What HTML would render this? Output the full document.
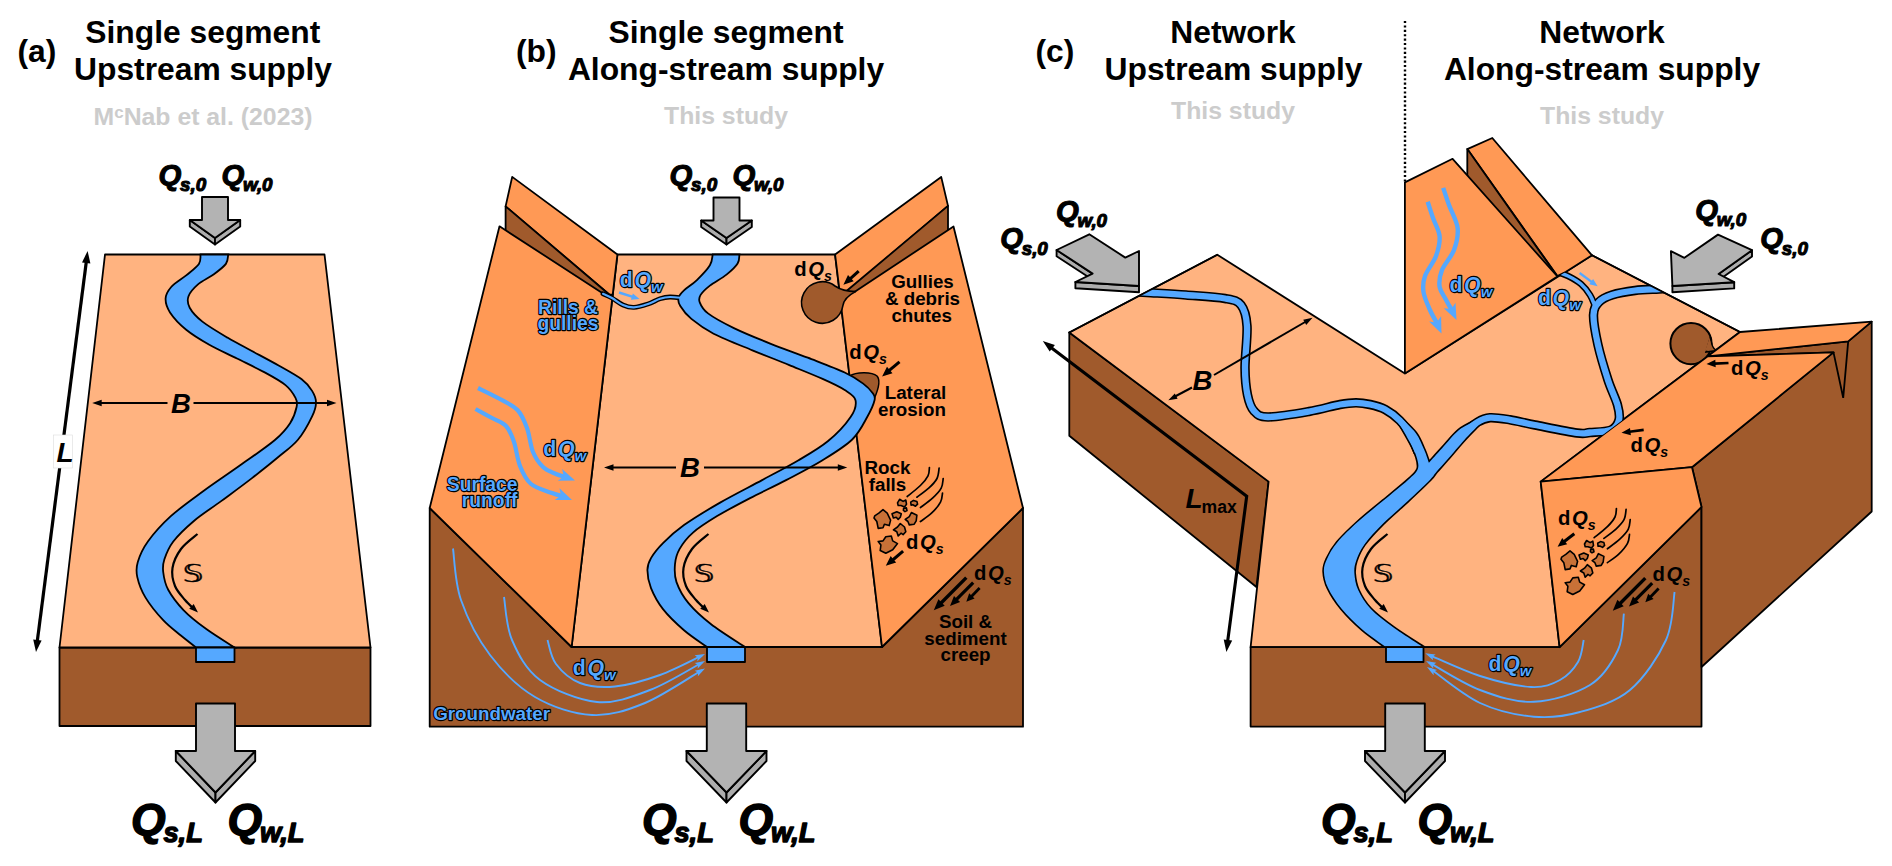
<!DOCTYPE html>
<html lang="en">
<head>
<meta charset="utf-8">
<title>Sediment and water supply configurations</title>
<style>
html,body{margin:0;padding:0;background:#fff;}
body{width:1892px;height:866px;overflow:hidden;}
svg{display:block;}
text{font-family:"Liberation Sans",sans-serif;}
.t{font-weight:bold;font-size:31.8px;text-anchor:middle;fill:#000;}
.p{font-weight:bold;font-size:31.8px;fill:#000;}
.g{font-weight:bold;font-size:24.8px;text-anchor:middle;fill:#ccc;}
.q{font-weight:bold;font-style:italic;fill:#000;stroke:#000;stroke-width:1.1px;stroke-linejoin:round;}
.qb{stroke-width:1.4px;}
.k{font-weight:bold;fill:#000;}
.w{font-weight:bold;fill:#55a8ff;stroke:#000;stroke-width:2.3px;stroke-linejoin:round;paint-order:stroke fill;}
.i{font-style:italic;}
</style>
</head>
<body>
<svg width="1892" height="866" viewBox="0 0 1892 866">
<rect width="1892" height="866" fill="#fff"/>
<!-- titles -->
<text x="17.5" y="61.5" class="p" >(a)</text>
<text x="202.8" y="42.5" class="t" >Single segment</text>
<text x="203" y="80.3" class="t" >Upstream supply</text>
<text x="203" y="124.8" class="g" >M<tspan font-size="17" dy="-7.2">c</tspan><tspan dy="7.2">Nab et al. (2023)</tspan></text>
<text x="516" y="62.4" class="p" >(b)</text>
<text x="726" y="43" class="t" >Single segment</text>
<text x="726" y="80.4" class="t" >Along-stream supply</text>
<text x="726" y="124.3" class="g" >This study</text>
<text x="1035.5" y="62.4" class="p" >(c)</text>
<text x="1233" y="43" class="t" >Network</text>
<text x="1233.5" y="80.4" class="t" >Upstream supply</text>
<text x="1233" y="119" class="g" >This study</text>
<text x="1602" y="43" class="t" >Network</text>
<text x="1602" y="80.4" class="t" >Along-stream supply</text>
<text x="1602" y="124.2" class="g" >This study</text>
<!-- panel a -->
<g id="panel-a">
<polygon points="59.5,647.5 370.5,647.5 370.5,726 59.5,726" fill="#a05a2c" stroke="#000" stroke-width="1.8" stroke-linejoin="round" />
<polygon points="105,254.5 324.5,254.5 370.5,647.5 59.5,647.5" fill="#ffb380" stroke="#000" stroke-width="1.8" stroke-linejoin="round" />
<path d="M200.5,254.5 C200.2,256.1 201.3,260.4 198.9,263.9 C196.5,267.4 190.8,271.5 186.2,275.4 C181.6,279.2 174.6,283.1 171.2,287 C167.8,290.9 165.8,294.3 165.6,298.5 C165.4,302.7 166.6,307.2 170,312.4 C173.4,317.6 179.6,324.3 186.2,329.7 C192.8,335.1 200.8,339.9 209.3,344.7 C217.8,349.5 227.8,353.9 237,358.5 C246.2,363.1 256.6,368 264.7,372.4 C272.8,376.8 280.4,380.9 285.5,385.1 C290.6,389.3 293.6,394.2 295.5,397.8 C297.4,401.4 297.5,402.8 296.6,407 C295.7,411.2 293.7,417.7 290.1,423.2 C286.5,428.7 282.9,433.2 274.9,440 C266.9,446.8 253.8,455.6 241.9,464.1 C230.1,472.6 215.7,482.1 203.8,490.8 C192,499.5 180.1,507.8 170.8,516.2 C161.5,524.7 153.4,533.9 147.9,541.5 C142.4,549.1 139.6,556 137.8,561.9 C136,567.8 136,571.2 137.3,577.1 C138.6,583 141.1,590.2 145.4,597.4 C149.7,604.6 157.3,613.9 163.2,620.2 C169.1,626.6 175.4,631 180.9,635.5 C186.4,640 193.5,645.5 196,647.5 L234.5,647.5 C229.8,644.4 214.8,635.3 206.3,629.1 C197.8,622.9 189.8,616.7 183.5,610.1 C177.2,603.5 171.6,596.1 168.2,589.8 C164.8,583.4 163.8,577.1 163.2,572 C162.6,566.9 162.7,564.4 164.4,559.3 C166.1,554.2 168.4,547.9 173.3,541.5 C178.2,535.1 185.6,528 193.6,521.2 C201.6,514.4 211.8,508.1 221.5,500.9 C231.2,493.7 242.7,485.3 252,478.1 C261.3,470.9 269.8,464.2 277.4,457.8 C285,451.4 291.9,446.9 297.7,440 C303.5,433.1 309.1,422.6 312.1,416.3 C315.2,410 316,406.6 316,402.4 C316,398.2 314.5,394.8 312.1,390.9 C309.7,387 307.3,383.5 301.7,379.3 C296.1,375.1 287.1,370.3 278.6,365.5 C270.1,360.7 259.4,355.1 250.9,350.5 C242.4,345.9 235.9,342.6 227.8,337.8 C219.7,333 208.8,326.6 202.4,321.6 C196.1,316.6 192,311.9 189.7,307.7 C187.4,303.5 187.2,300 188.5,296.2 C189.8,292.4 193.5,288.3 197.7,284.6 C201.9,280.9 209.2,277.6 213.9,274.2 C218.6,270.8 223.5,267.2 225.9,263.9 C228.3,260.6 227.8,256.1 228.2,254.5 Z" fill="#55a8ff" stroke="#000" stroke-width="1.8" />
<polygon points="196,647.5 234.5,647.5 234.5,662 196,662" fill="#55a8ff" stroke="#000" stroke-width="1.8" stroke-linejoin="round" />
<line x1="99" y1="403" x2="167.5" y2="403" stroke="#000" stroke-width="2"/>
<line x1="193.5" y1="403" x2="330" y2="403" stroke="#000" stroke-width="2"/>
<polygon points="92.2,403 101.7,399.8 101.7,403 101.7,406.2" fill="#000"/>
<polygon points="336.5,403 327,406.2 327,403 327,399.8" fill="#000"/>
<text x="171" y="412.5" class="k i" font-size="27.5">B</text>
<line x1="86.8" y1="258" x2="36.8" y2="645" stroke="#000" stroke-width="3.2"/>
<polygon points="87.6,251 90.4,263.4 86.2,262.9 82,262.4" fill="#000"/>
<polygon points="36,652 33.2,639.6 37.4,640.1 41.6,640.6" fill="#000"/>
<rect x="53.5" y="435" width="19" height="33" fill="#fff" stroke="#ddd" stroke-width="0.6"/>
<text x="56.5" y="462" class="k i" font-size="28">L</text>
<path d="M197.5,534 C194.8,536.5 185.2,543.3 181,549 C176.8,554.7 173.5,561.8 172.5,568 C171.5,574.2 172.9,580.7 175,586 C177.1,591.3 181.8,596.1 185,600 C188.2,603.9 192.9,607.8 194.5,609.3 " fill="none" stroke="#000" stroke-width="2.2" />
<polygon points="198,612.6 189.2,608.7 191.5,606.4 193.7,604" fill="#000"/>
<text transform="translate(193,581.9) scale(1.3,1)" x="0" y="0" font-size="25.6" fill="#000" stroke="#000" stroke-width="0.35" text-anchor="middle" style="font-family:'DejaVu Sans',sans-serif">𝕊</text>
<polygon points="189.8,220 189.8,226.5 215,244.5 215,238" fill="#adadad" stroke="#000" stroke-width="1.9" stroke-linejoin="round" />
<polygon points="240.2,220 240.2,226.5 215,244.5 215,238" fill="#adadad" stroke="#000" stroke-width="1.9" stroke-linejoin="round" />
<polygon points="202,197 228,197 228,220 240.2,220 215,238 189.8,220 202,220" fill="#b3b3b3" stroke="#000" stroke-width="1.9" stroke-linejoin="round" />
<polygon points="175.8,751 175.8,761 215.5,802.5 215.5,792.5" fill="#adadad" stroke="#000" stroke-width="1.9" stroke-linejoin="round" />
<polygon points="255.2,751 255.2,761 215.5,802.5 215.5,792.5" fill="#adadad" stroke="#000" stroke-width="1.9" stroke-linejoin="round" />
<polygon points="196,703.5 235,703.5 235,751 255.2,751 215.5,792.5 175.8,751 196,751" fill="#b3b3b3" stroke="#000" stroke-width="1.9" stroke-linejoin="round" />
<text x="158.5" y="184.8" class="q" font-size="29.3">Q<tspan font-size="18.8" dy="6.4" dx="-1.3">s,0</tspan></text>
<text x="221.5" y="184.8" class="q" font-size="29.3">Q<tspan font-size="18.8" dy="6.4" dx="-1.3">w,0</tspan></text>
<text x="131" y="834.5" class="q qb" font-size="44.5">Q<tspan font-size="27.3" dy="7.7" dx="-2.2">s,L</tspan></text>
<text x="227.5" y="834.5" class="q qb" font-size="44.5">Q<tspan font-size="27.3" dy="7.7" dx="-2.2">w,L</tspan></text>
</g>
<!-- panel b -->
<g id="panel-b">
<polygon points="429.7,508 571.6,647 882,647 1023,508 1023,726.7 429.7,726.7" fill="#a05a2c" stroke="#000" stroke-width="1.8" stroke-linejoin="round" />
<polygon points="617.5,254.5 835,254.5 882,647 571.6,647" fill="#ffb380" stroke="#000" stroke-width="1.8" stroke-linejoin="round" />
<polygon points="512.2,176.9 617.4,254.5 612.7,294.7 609.5,294.7 505.6,206.4" fill="#ff9955" stroke="#000" stroke-width="1.8" stroke-linejoin="round" />
<polygon points="505.6,206.4 505.6,236 603,293.5 609.5,294.7" fill="#a05a2c" stroke="none" stroke-width="1.8" stroke-linejoin="round" />
<polyline points="505.6,236 505.6,206.4 609.5,294.7" fill="none" stroke="#000" stroke-width="1.8" stroke-linejoin="round"/>
<polygon points="499.5,226.3 603,293.5 609.5,294.9 612.7,294.9 571.6,647 429.7,508" fill="#ff9955" stroke="#000" stroke-width="1.8" stroke-linejoin="round" />
<polygon points="941.2,176.9 835.1,254.5 840,294.7 843.5,294.7 948,205.9" fill="#ff9955" stroke="#000" stroke-width="1.8" stroke-linejoin="round" />
<polygon points="948,205.9 948,236 854.8,291.9 846.5,291" fill="#a05a2c" stroke="none" stroke-width="1.8" stroke-linejoin="round" />
<polyline points="948,236 948,205.9 846.5,291" fill="none" stroke="#000" stroke-width="1.8" stroke-linejoin="round"/>
<polygon points="953.5,226.5 854.8,291.7 846,293.5 839.8,294.9 882,647 1023,508" fill="#ff9955" stroke="#000" stroke-width="1.8" stroke-linejoin="round" />
<polygon points="850.5,386 859,392 859,412 854.3,424" fill="#ffb380" stroke="#ffb380" stroke-width="2.4" stroke-linejoin="round" />
<path d="M849.4,376.2 C856,371.5 872,371.5 877,376 C880.5,380 878,390 874.5,398 L852,392 Z" fill="#a05a2c" stroke="#000" stroke-width="1.5" />
<path d="M603,293.8 C604.5,294.5 608.7,296.1 612,298 C615.3,299.9 619.3,303.4 623,305 C626.7,306.6 629.8,307.6 634,307.4 C638.2,307.2 643.7,305.4 648,304 C652.3,302.6 656.3,300 660,298.8 C663.7,297.6 666.3,297.1 670,297 C673.7,296.9 680,297.8 682,298 " fill="none" stroke="#000" stroke-width="4.8" stroke-linecap="round"/>
<path d="M712.7,254.5 C712.2,256.3 712.5,261 709.9,265.3 C707.3,269.6 701.2,275.9 696.9,280.1 C692.6,284.3 687.1,287.4 684,290.3 C680.9,293.2 679.1,295.1 678.5,297.7 C677.9,300.3 678.1,302.5 680.3,306 C682.4,309.5 685.8,314.3 691.4,318.9 C697,323.5 703.4,328.5 713.6,333.7 C723.8,338.9 739.8,345.1 752.4,350.3 C765,355.5 777.6,360.3 789.3,365.1 C801,369.9 813.4,374.8 822.6,378.9 C831.8,383 839.2,386.4 844.7,390 C850.2,393.6 854.5,395.7 855.5,400.2 C856.5,404.7 855.2,410.2 850.6,417 C846,423.8 836.9,433.8 828.1,441 C819.4,448.2 809.1,454 798.1,460.5 C787.1,467 775.1,473.1 762.1,480.1 C749.1,487.1 733.1,495.1 720.1,502.6 C707.1,510.1 693.5,518.4 684,525.1 C674.5,531.9 668.5,537.6 663,543.1 C657.5,548.6 653.6,553.6 651,558.1 C648.4,562.6 647.4,565.1 647.4,570.1 C647.4,575.1 648.4,581.6 651,588.1 C653.6,594.6 657.5,602.1 663,609.1 C668.5,616.1 676.7,623.9 684,630.2 C691.3,636.5 703.2,644.2 707,647 L745,647 C739.4,643.2 720.5,631.5 711.1,624.2 C701.7,616.9 694.3,610.1 688.5,603.1 C682.7,596.1 678.8,588.6 676.5,582.1 C674.2,575.6 674.5,569.6 675,564.1 C675.5,558.6 676.5,554.4 679.5,549.1 C682.5,543.9 686.7,538.1 693,532.6 C699.3,527.1 707.6,521.9 717.1,516.1 C726.6,510.4 738.6,504.1 750.1,498.1 C761.6,492.1 774.1,486.4 786.1,480.1 C798.1,473.8 811.1,467.3 822.1,460.5 C833.1,453.7 844.7,446.8 852.2,439.5 C859.7,432.2 863.5,423.6 867.2,417 C870.9,410.4 873.7,404 874.6,400 C875.5,396 874.3,395.5 872.4,392.8 C870.5,390.1 867.8,387 863.2,383.6 C858.6,380.2 853.9,376.8 844.7,372.5 C835.5,368.2 820.1,362.5 807.8,357.7 C795.5,352.9 783.1,348.7 770.8,343.8 C758.5,338.9 744.4,333.2 733.9,328.1 C723.4,323 713.7,317.7 708,313.4 C702.3,309.1 700.9,305.4 699.7,302.3 C698.5,299.2 698.9,297.7 700.6,294.9 C702.3,292.1 705.6,289 709.9,285.6 C714.2,282.2 721.9,278.3 726.5,274.6 C731.1,270.9 735.5,266.9 737.6,263.5 C739.8,260.1 739.1,256 739.4,254.5 Z" fill="#55a8ff" stroke="#000" stroke-width="1.8" />
<path d="M603,293.8 C604.5,294.5 608.7,296.1 612,298 C615.3,299.9 619.3,303.4 623,305 C626.7,306.6 629.8,307.6 634,307.4 C638.2,307.2 643.7,305.4 648,304 C652.3,302.6 656.3,300 660,298.8 C663.7,297.6 666.3,297.1 670,297 C673.7,296.9 680,297.8 682,298 " fill="none" stroke="#55a8ff" stroke-width="2.1" stroke-linecap="round"/>
<polygon points="707,647 745,647 745,662 707,662" fill="#55a8ff" stroke="#000" stroke-width="1.8" stroke-linejoin="round" />
<path d="M855.5,291.6 Q843,291.5 835,286 A20.8,20.8 0 1 0 842.9,305.7 Q844,297.5 855.5,291.6 Z" fill="#a05a2c" stroke="#000" stroke-width="1.6" stroke-linejoin="round"/>
<line x1="610" y1="467.5" x2="676" y2="467.5" stroke="#000" stroke-width="2"/>
<line x1="704" y1="467.5" x2="841" y2="467.5" stroke="#000" stroke-width="2"/>
<polygon points="604,467.5 613.5,464.2 613.5,467.5 613.5,470.8" fill="#000"/>
<polygon points="847.3,467.5 837.8,470.8 837.8,467.5 837.8,464.2" fill="#000"/>
<text x="680" y="477" class="k i" font-size="27.5">B</text>
<path d="M708.5,534 C705.8,536.5 696.2,543.3 692,549 C687.8,554.7 684.5,561.8 683.5,568 C682.5,574.2 683.9,580.7 686,586 C688.1,591.3 692.8,596.1 696,600 C699.2,603.9 703.9,607.8 705.5,609.3 " fill="none" stroke="#000" stroke-width="2.2" />
<polygon points="709,612.6 700.2,608.7 702.5,606.4 704.7,604" fill="#000"/>
<text transform="translate(704,581.9) scale(1.3,1)" x="0" y="0" font-size="25.6" fill="#000" stroke="#000" stroke-width="0.35" text-anchor="middle" style="font-family:'DejaVu Sans',sans-serif">𝕊</text>
<path d="M478,388 C481.7,389.8 493.4,395.3 500,399 C506.6,402.7 513,405.2 517.5,410 C522,414.8 524.4,421 527,428 C529.6,435 530.3,445.5 533,452 C535.7,458.5 539.2,463.3 543,467 C546.8,470.7 552.4,472.4 556,474 C559.6,475.6 563.4,476.3 564.9,476.8 " fill="none" stroke="#55a8ff" stroke-width="4.2" />
<polygon points="575,480.5 557.8,480.8 563.7,476.4 562.1,469.1" fill="#55a8ff"/>
<path d="M475.5,409 C478.2,410.5 486.9,415.2 492,418 C497.1,420.8 502.3,422 506,426 C509.7,430 511.7,435.3 514,442 C516.3,448.7 517.2,459 520,466 C522.8,473 525.7,479.5 531,484 C536.3,488.5 546.8,491 552,493 C557.2,495 560.3,495.5 562,496 " fill="none" stroke="#55a8ff" stroke-width="4.2" />
<polygon points="572,500 554.8,499.9 560.9,495.5 559.5,488.3" fill="#55a8ff"/>
<line x1="619" y1="292.5" x2="632.8" y2="296.9" stroke="#55a8ff" stroke-width="2.4"/>
<polygon points="639.5,299 630.9,299.7 631.9,296.6 632.9,293.5" fill="#55a8ff"/>
<path d="M453,548.5 C454.3,557.1 454.8,582.2 461,600 C467.2,617.8 477.7,638.8 490,655 C502.3,671.2 518,687 535,697 C552,707 573.7,714 592,715 C610.3,716 626.7,710.5 645,703 C663.3,695.5 692.5,675.5 702,670 " fill="none" stroke="#55a8ff" stroke-width="1.9" />
<polygon points="705,668.6 697.9,676.3 698,672.5 694.7,670.7" fill="#55a8ff"/>
<path d="M504,597 C505.3,604.2 506,626.2 512,640 C518,653.8 525.8,669.7 540,680 C554.2,690.3 578.7,700.3 597,702 C615.3,703.7 632.5,696.6 650,690 C667.5,683.4 693.3,667.1 702,662.5 " fill="none" stroke="#55a8ff" stroke-width="1.9" />
<polygon points="705,661.1 697.7,668.6 697.9,664.8 694.6,662.9" fill="#55a8ff"/>
<path d="M547.5,640 C548.9,644 550.6,656.8 556,664 C561.4,671.2 570.2,679.2 580,683 C589.8,686.8 601.7,687.8 615,686.5 C628.3,685.2 645.5,680.2 660,675 C674.5,669.8 695,658.8 702,655.5 " fill="none" stroke="#55a8ff" stroke-width="1.9" />
<polygon points="705,654.1 697.3,661.2 697.7,657.4 694.6,655.3" fill="#55a8ff"/>
<path d="M929.4,467.5 C929.2,468.9 929.5,472.8 928,475.8 C926.5,478.8 923.9,482.1 920.4,485.5 C916.9,488.9 909.4,494.7 907.2,496.5 " fill="none" stroke="#000" stroke-width="1.7" stroke-linecap="round"/>
<path d="M939.1,468.2 C938.8,469.9 938.7,475.2 937,478.5 C935.3,481.8 932.1,485.1 928.7,488.2 C925.4,491.3 918.9,495.7 916.9,497.2 " fill="none" stroke="#000" stroke-width="1.7" stroke-linecap="round"/>
<path d="M943.2,478.5 C942.9,480.1 942.9,485 941.2,488.2 C939.5,491.4 936.3,494.7 932.8,497.9 C929.3,501.1 922.5,506 920.4,507.6 " fill="none" stroke="#000" stroke-width="1.7" stroke-linecap="round"/>
<path d="M942.5,493.1 C942.2,494.6 942.3,498.8 940.5,502.1 C938.7,505.5 934.9,510 931.5,513.2 C928.1,516.4 922.2,520.1 920.4,521.5 " fill="none" stroke="#000" stroke-width="1.7" stroke-linecap="round"/>
<polygon points="874.7,515.9 878.8,513.2 883,509.7 887.2,513.2 890.6,520.1 889.2,525.6 884.4,524.2 883,527.7 878.2,528.4 876.8,521.5 874,518" fill="#c87137" stroke="#000" stroke-width="1.6" stroke-linejoin="round" />
<polygon points="897.5,502.8 899.6,499.3 903.1,501.4 905.8,500 906.5,504.2 904.5,506.9 901,505.5 898.2,505.5" fill="#c87137" stroke="#000" stroke-width="1.6" stroke-linejoin="round" />
<polygon points="910.7,502.1 913.5,500.4 916.9,501.4 917.6,504.2 915.5,506.2 912.8,504.8 911.1,505.1" fill="#c87137" stroke="#000" stroke-width="1.6" stroke-linejoin="round" />
<polygon points="903.6,508.2 906.4,507.9 907,510.6 905,511.6 903.4,510.4" fill="#c87137" stroke="#000" stroke-width="1.6" stroke-linejoin="round" />
<polygon points="892,513.8 896.8,511.8 901.3,513.8 900.3,517.3 898.2,519.4 896.2,517.3 893.4,518" fill="#c87137" stroke="#000" stroke-width="1.6" stroke-linejoin="round" />
<polygon points="905.2,519.4 909.3,516.6 911.4,512.5 916.9,515.2 916.2,520.8 914.2,524.2 909.3,524.9 907.9,521.5" fill="#c87137" stroke="#000" stroke-width="1.6" stroke-linejoin="round" />
<polygon points="893.4,529.8 897.5,527 900.3,523.5 904.5,527 905.8,531.8 903.1,534.6 901,533.2 898.2,536 896.8,531.8" fill="#c87137" stroke="#000" stroke-width="1.6" stroke-linejoin="round" />
<polygon points="878.2,541.5 883,540.9 885.8,536.7 891.3,536 892.7,540.9 897.5,543.6 892.7,549.8 885.8,553.3 880.2,550.5 880.9,545" fill="#c87137" stroke="#000" stroke-width="1.6" stroke-linejoin="round" />
<line x1="903.1" y1="551.2" x2="892.7" y2="560" stroke="#000" stroke-width="3"/>
<polygon points="885.8,565.8 890.7,556.1 893.4,559.4 896.2,562.6" fill="#000"/>
<line x1="966.3" y1="577.6" x2="940.8" y2="603.2" stroke="#000" stroke-width="3.4"/>
<polygon points="933.8,610.3 938.4,599.3 941.6,602.5 944.7,605.7" fill="#000"/>
<line x1="973.2" y1="582.6" x2="956.3" y2="599.6" stroke="#000" stroke-width="3.2"/>
<polygon points="950,606 954,595.9 957,598.9 960.1,601.9" fill="#000"/>
<line x1="979.6" y1="588" x2="971.2" y2="596.7" stroke="#000" stroke-width="2.8"/>
<polygon points="966.3,601.7 969.2,593.3 971.9,596 974.6,598.6" fill="#000"/>
<line x1="858.7" y1="271.1" x2="850.1" y2="278.8" stroke="#000" stroke-width="3"/>
<polygon points="843.4,284.8 848,275 850.8,278.1 853.7,281.3" fill="#000"/>
<line x1="899.5" y1="361.8" x2="889" y2="370.7" stroke="#000" stroke-width="3"/>
<polygon points="882.1,376.5 887,366.8 889.7,370 892.5,373.3" fill="#000"/>
<polygon points="701.2,220.5 701.2,227 726.5,244.5 726.5,238" fill="#adadad" stroke="#000" stroke-width="1.9" stroke-linejoin="round" />
<polygon points="751.8,220.5 751.8,227 726.5,244.5 726.5,238" fill="#adadad" stroke="#000" stroke-width="1.9" stroke-linejoin="round" />
<polygon points="713.5,197.5 739.5,197.5 739.5,220.5 751.8,220.5 726.5,238 701.2,220.5 713.5,220.5" fill="#b3b3b3" stroke="#000" stroke-width="1.9" stroke-linejoin="round" />
<polygon points="686.5,751 686.5,761 726.5,802.5 726.5,792.5" fill="#adadad" stroke="#000" stroke-width="1.9" stroke-linejoin="round" />
<polygon points="766.5,751 766.5,761 726.5,802.5 726.5,792.5" fill="#adadad" stroke="#000" stroke-width="1.9" stroke-linejoin="round" />
<polygon points="706.8,703.5 746.2,703.5 746.2,751 766.5,751 726.5,792.5 686.5,751 706.8,751" fill="#b3b3b3" stroke="#000" stroke-width="1.9" stroke-linejoin="round" />
<text x="669.5" y="184.8" class="q" font-size="29.3">Q<tspan font-size="18.8" dy="6.4" dx="-1.3">s,0</tspan></text>
<text x="732.5" y="184.8" class="q" font-size="29.3">Q<tspan font-size="18.8" dy="6.4" dx="-1.3">w,0</tspan></text>
<text x="642" y="834.5" class="q qb" font-size="44.5">Q<tspan font-size="27.3" dy="7.7" dx="-2.2">s,L</tspan></text>
<text x="738.5" y="834.5" class="q qb" font-size="44.5">Q<tspan font-size="27.3" dy="7.7" dx="-2.2">w,L</tspan></text>
</g>
<!-- panel c -->
<g id="panel-c">
<line x1="1405" y1="21" x2="1405" y2="182" stroke="#000" stroke-width="2.4" stroke-dasharray="2.1 2.3"/>
<polygon points="1069.3,332.5 1268.6,481.6 1256.4,587 1069.3,435.8" fill="#a05a2c" stroke="#000" stroke-width="1.8" stroke-linejoin="round" />
<polygon points="1250.6,647.2 1559.6,647.2 1701.5,507 1701.5,726.6 1250.6,726.6" fill="#a05a2c" stroke="#000" stroke-width="1.8" stroke-linejoin="round" />
<polygon points="1871.7,321.6 1871.7,511.5 1701.5,667 1701.5,507 1692,467.2 1833.5,352.4 1707.7,356.3 1848.2,341.4" fill="#a05a2c" stroke="#000" stroke-width="1.8" stroke-linejoin="round" />
<polygon points="1069.3,332.5 1217.3,254.8 1404.9,373.4 1557.4,277 1566,271.7 1592,255.3 1740,332 1707.7,356.3 1540.7,481.6 1559.6,647.2 1250.6,647.2 1268.6,481.6" fill="#ffb380" stroke="#000" stroke-width="1.8" stroke-linejoin="round" />
<circle cx="1691" cy="343.6" r="20.6" fill="#a05a2c" stroke="#000" stroke-width="2"/>
<path d="M1710.6,337 Q1711.3,348 1716.5,350.6 L1706,352 Z" fill="#a05a2c" stroke="#000" stroke-width="1.6" />
<path d="M1709.6,337.5 L1712,349.5 L1705,351 Z" fill="#a05a2c" stroke="none" stroke-width="1.8" />
<polygon points="1467.3,149.1 1492.3,138 1592,255.3 1566,271.7 1557.4,276" fill="#ff9955" stroke="#000" stroke-width="1.8" stroke-linejoin="round" />
<polygon points="1467.3,149.1 1467.3,184 1557.4,276.5" fill="#a05a2c" stroke="none" stroke-width="1.8" stroke-linejoin="round" />
<polyline points="1467.3,184 1467.3,149.1 1557.4,276.5" fill="none" stroke="#000" stroke-width="1.8" stroke-linejoin="round"/>
<polygon points="1404.9,182.4 1452.6,158.8 1557.4,276.5 1404.9,373.4" fill="#ff9955" stroke="#000" stroke-width="1.8" stroke-linejoin="round" />
<polygon points="1740,332 1871.7,321.6 1848.2,341.4 1707.7,356.3" fill="#ff9955" stroke="#000" stroke-width="1.8" stroke-linejoin="round" />
<polyline points="1833.5,352.4 1843.2,397.8 1848.2,341.4" fill="none" stroke="#000" stroke-width="1.8" stroke-linejoin="miter"/>
<polygon points="1707.7,356.3 1833.5,352.4 1692,467.2 1540.7,481.6" fill="#ff9955" stroke="#000" stroke-width="1.8" stroke-linejoin="round" />
<polygon points="1540.7,481.6 1692,467.2 1701.5,507 1559.6,647.2" fill="#ff9955" stroke="#000" stroke-width="1.8" stroke-linejoin="round" />
<clipPath id="valleyc"><polygon points="1069.3,332.5 1217.3,254.8 1404.9,373.4 1557.4,277 1566,271.7 1592,255.3 1740,332 1707.7,356.3 1540.7,481.6 1559.6,647.2 1250.6,647.2 1268.6,481.6"/></clipPath>
<g clip-path="url(#valleyc)">
<path d="M1555,271.5 C1557.2,272.2 1563.7,273.9 1568,276 C1572.3,278.1 1577.3,280.8 1581,284 C1584.7,287.2 1587.8,291.5 1590,295 C1592.2,298.5 1593.8,303.3 1594.5,305 " fill="none" stroke="#000" stroke-width="6.6" />
<path d="M1130,291.5 C1132.8,291.7 1137.7,291.9 1147,292.5 C1156.3,293.1 1173,294 1186,295 C1199,296 1215.8,296.8 1225,298.5 C1234.2,300.2 1237.3,300.4 1241,305 C1244.7,309.6 1246.3,315.5 1247,326 C1247.7,336.5 1244.9,356.5 1245,368 C1245.1,379.5 1246,387.8 1247.5,395 C1249,402.2 1250.6,407.3 1254,411 C1257.4,414.7 1258.8,416.9 1268,417 C1277.2,417.1 1297,413.6 1309,411.5 C1321,409.4 1332.2,405.9 1340,404.5 C1347.8,403.1 1351,402.8 1356,402.8 C1361,402.8 1365.1,403.4 1370,404.5 C1374.9,405.6 1380.2,406.8 1385.2,409.5 C1390.2,412.2 1395.5,416.1 1399.8,420.5 C1404.1,424.9 1408,430.8 1411,436 C1414,441.2 1416.8,449.3 1418,452 " fill="none" stroke="#000" stroke-width="9.5" />
<path d="M1675,288 C1672.3,288.2 1665.7,288.6 1659,289 C1652.3,289.4 1642.8,289.5 1635,290.5 C1627.2,291.5 1618,293.1 1612,295 C1606,296.9 1602.1,298.7 1599,302 C1595.9,305.3 1593.7,307.8 1593.5,315 C1593.3,322.2 1595.6,334.2 1598,345 C1600.4,355.8 1604.8,370 1608,380 C1611.2,390 1615.7,398.3 1617.5,405 C1619.3,411.7 1620.1,415.8 1619,420 C1617.9,424.2 1615.8,427.9 1611,430 C1606.2,432.1 1595.7,432 1590,432.5 C1584.3,433 1586.2,434.2 1577,433 C1567.8,431.8 1546.2,427.2 1535,425 C1523.8,422.8 1517.5,421 1510,419.8 C1502.5,418.6 1495.4,417.3 1490,417.7 C1484.6,418.1 1482.2,419.3 1477.4,422.2 C1472.7,425.1 1466.6,430.2 1461.5,435 C1456.4,439.8 1450.6,447 1447,451 C1443.4,455 1441.2,457.7 1440,459 " fill="none" stroke="#000" stroke-width="9.5" />
<path d="M1399.3,423.4 C1401.1,426.6 1407.3,437.2 1410.2,442.7 C1413.1,448.2 1415.1,452.1 1416.4,456.5 C1417.7,460.9 1419.2,465.1 1417.8,469 C1416.4,472.9 1413.8,474.7 1408,480 C1402.2,485.3 1391.4,493.9 1383.1,500.8 C1374.8,507.7 1365.8,514.7 1358.2,521.6 C1350.6,528.5 1342.6,536.1 1337.4,542.3 C1332.2,548.5 1329.2,554.1 1327,559 C1324.8,563.9 1323.7,566.5 1323.9,571.4 C1324.1,576.2 1325.1,581.9 1328.1,588.1 C1331,594.3 1335.9,601.9 1341.6,608.8 C1347.3,615.7 1354.9,623.2 1362.3,629.6 C1369.7,636 1382,644.3 1386,647.2 L1423.5,647.2 C1418.5,643.9 1402.3,633.9 1393.5,627.5 C1384.7,621.1 1376.5,615 1370.6,608.8 C1364.7,602.6 1360.9,596 1358.2,590.1 C1355.5,584.2 1354.8,578.4 1354.4,573.5 C1354.1,568.6 1354.4,565.9 1356.1,561 C1357.8,556.1 1359.9,550.6 1364.4,544.4 C1368.9,538.2 1375.8,530.9 1383.1,523.6 C1390.4,516.3 1400.3,508.1 1408.1,500.8 C1415.9,493.5 1425.2,484.8 1429.9,480 C1434.6,475.2 1433.5,475.2 1436.5,471.8 C1439.5,468.4 1443,464.6 1447.6,459.3 C1452.2,454 1459.2,445.5 1464.3,439.9 C1469.4,434.2 1475.9,427.8 1478.2,425.4 L1476.6,420.2 C1473.6,421.9 1464.5,425.5 1458.7,430.2 C1453,434.9 1447.1,442.8 1442.1,448.2 C1437.1,453.6 1431.1,460.4 1428.9,462.8 C1428.1,460.6 1426.3,454.6 1424.1,449.6 C1421.9,444.6 1419.6,438.3 1415.7,433 C1411.8,427.7 1403.1,420.2 1400.6,417.6 Z" fill="#55a8ff" stroke="#000" stroke-width="3.2" stroke-linejoin="round"/>
<path d="M1555,271.5 C1557.2,272.2 1563.7,273.9 1568,276 C1572.3,278.1 1577.3,280.8 1581,284 C1584.7,287.2 1587.8,291.5 1590,295 C1592.2,298.5 1593.8,303.3 1594.5,305 " fill="none" stroke="#55a8ff" stroke-width="3.6" />
<path d="M1130,291.5 C1132.8,291.7 1137.7,291.9 1147,292.5 C1156.3,293.1 1173,294 1186,295 C1199,296 1215.8,296.8 1225,298.5 C1234.2,300.2 1237.3,300.4 1241,305 C1244.7,309.6 1246.3,315.5 1247,326 C1247.7,336.5 1244.9,356.5 1245,368 C1245.1,379.5 1246,387.8 1247.5,395 C1249,402.2 1250.6,407.3 1254,411 C1257.4,414.7 1258.8,416.9 1268,417 C1277.2,417.1 1297,413.6 1309,411.5 C1321,409.4 1332.2,405.9 1340,404.5 C1347.8,403.1 1351,402.8 1356,402.8 C1361,402.8 1365.1,403.4 1370,404.5 C1374.9,405.6 1380.2,406.8 1385.2,409.5 C1390.2,412.2 1395.5,416.1 1399.8,420.5 C1404.1,424.9 1408,430.8 1411,436 C1414,441.2 1416.8,449.3 1418,452 " fill="none" stroke="#55a8ff" stroke-width="6.3" />
<path d="M1675,288 C1672.3,288.2 1665.7,288.6 1659,289 C1652.3,289.4 1642.8,289.5 1635,290.5 C1627.2,291.5 1618,293.1 1612,295 C1606,296.9 1602.1,298.7 1599,302 C1595.9,305.3 1593.7,307.8 1593.5,315 C1593.3,322.2 1595.6,334.2 1598,345 C1600.4,355.8 1604.8,370 1608,380 C1611.2,390 1615.7,398.3 1617.5,405 C1619.3,411.7 1620.1,415.8 1619,420 C1617.9,424.2 1615.8,427.9 1611,430 C1606.2,432.1 1595.7,432 1590,432.5 C1584.3,433 1586.2,434.2 1577,433 C1567.8,431.8 1546.2,427.2 1535,425 C1523.8,422.8 1517.5,421 1510,419.8 C1502.5,418.6 1495.4,417.3 1490,417.7 C1484.6,418.1 1482.2,419.3 1477.4,422.2 C1472.7,425.1 1466.6,430.2 1461.5,435 C1456.4,439.8 1450.6,447 1447,451 C1443.4,455 1441.2,457.7 1440,459 " fill="none" stroke="#55a8ff" stroke-width="6.3" />
<path d="M1399.3,423.4 C1401.1,426.6 1407.3,437.2 1410.2,442.7 C1413.1,448.2 1415.1,452.1 1416.4,456.5 C1417.7,460.9 1419.2,465.1 1417.8,469 C1416.4,472.9 1413.8,474.7 1408,480 C1402.2,485.3 1391.4,493.9 1383.1,500.8 C1374.8,507.7 1365.8,514.7 1358.2,521.6 C1350.6,528.5 1342.6,536.1 1337.4,542.3 C1332.2,548.5 1329.2,554.1 1327,559 C1324.8,563.9 1323.7,566.5 1323.9,571.4 C1324.1,576.2 1325.1,581.9 1328.1,588.1 C1331,594.3 1335.9,601.9 1341.6,608.8 C1347.3,615.7 1354.9,623.2 1362.3,629.6 C1369.7,636 1382,644.3 1386,647.2 L1423.5,647.2 C1418.5,643.9 1402.3,633.9 1393.5,627.5 C1384.7,621.1 1376.5,615 1370.6,608.8 C1364.7,602.6 1360.9,596 1358.2,590.1 C1355.5,584.2 1354.8,578.4 1354.4,573.5 C1354.1,568.6 1354.4,565.9 1356.1,561 C1357.8,556.1 1359.9,550.6 1364.4,544.4 C1368.9,538.2 1375.8,530.9 1383.1,523.6 C1390.4,516.3 1400.3,508.1 1408.1,500.8 C1415.9,493.5 1425.2,484.8 1429.9,480 C1434.6,475.2 1433.5,475.2 1436.5,471.8 C1439.5,468.4 1443,464.6 1447.6,459.3 C1452.2,454 1459.2,445.5 1464.3,439.9 C1469.4,434.2 1475.9,427.8 1478.2,425.4 L1476.6,420.2 C1473.6,421.9 1464.5,425.5 1458.7,430.2 C1453,434.9 1447.1,442.8 1442.1,448.2 C1437.1,453.6 1431.1,460.4 1428.9,462.8 C1428.1,460.6 1426.3,454.6 1424.1,449.6 C1421.9,444.6 1419.6,438.3 1415.7,433 C1411.8,427.7 1403.1,420.2 1400.6,417.6 Z" fill="#55a8ff" stroke="none" stroke-width="1.8" />
</g>
<polygon points="1386,647.2 1423.5,647.2 1423.5,662 1386,662" fill="#55a8ff" stroke="#000" stroke-width="1.8" stroke-linejoin="round" />
<line x1="1217.3" y1="254.8" x2="1069.3" y2="332.5" stroke="#000" stroke-width="1.8" stroke-linecap="round"/>
<line x1="1592" y1="255.3" x2="1740" y2="332" stroke="#000" stroke-width="1.8" stroke-linecap="round"/>
<line x1="1250.6" y1="647.2" x2="1559.6" y2="647.2" stroke="#000" stroke-width="1.8"/>
<line x1="1174" y1="397" x2="1192" y2="387.5" stroke="#000" stroke-width="2"/>
<line x1="1214" y1="375" x2="1306" y2="321.5" stroke="#000" stroke-width="2"/>
<polygon points="1168.3,400.3 1174.8,393.4 1176.2,396 1177.6,398.7" fill="#000"/>
<polygon points="1312.5,317.8 1306.2,324.9 1304.7,322.3 1303.2,319.7" fill="#000"/>
<text x="1192.5" y="390" class="k i" font-size="27.5">B</text>
<polyline points="1049,346 1246.7,496.3 1227.3,644" fill="none" stroke="#000" stroke-width="3.1" stroke-linejoin="miter"/>
<polygon points="1042.8,340.9 1054.9,344.9 1052.3,348.2 1049.7,351.6" fill="#000"/>
<polygon points="1226.4,652 1223.7,639.6 1227.9,640.1 1232.2,640.6" fill="#000"/>
<text x="1185.5" y="508" class="k" font-size="28"><tspan class="i">L</tspan><tspan font-size="17.6" dy="5" dx="-1">max</tspan></text>
<path d="M1387.5,534 C1384.8,536.5 1375.2,543.3 1371,549 C1366.8,554.7 1363.5,561.8 1362.5,568 C1361.5,574.2 1362.9,580.7 1365,586 C1367.1,591.3 1371.8,596.1 1375,600 C1378.2,603.9 1382.9,607.8 1384.5,609.3 " fill="none" stroke="#000" stroke-width="2.2" />
<polygon points="1388,612.6 1379.2,608.7 1381.5,606.4 1383.7,604" fill="#000"/>
<text transform="translate(1383,581.9) scale(1.3,1)" x="0" y="0" font-size="25.6" fill="#000" stroke="#000" stroke-width="0.35" text-anchor="middle" style="font-family:'DejaVu Sans',sans-serif">𝕊</text>
<path d="M1427.7,201.8 C1428.6,204.5 1431,212.2 1433,218 C1435,223.8 1439.1,230.1 1439.6,236.4 C1440.1,242.7 1438.4,249.4 1436,256 C1433.6,262.6 1427.1,270 1425,276 C1422.9,282 1422.7,286.3 1423.5,292 C1424.3,297.7 1427.7,304.7 1430,310 C1432.3,315.3 1436,321.3 1437.2,323.6 " fill="none" stroke="#55a8ff" stroke-width="4.4" />
<polygon points="1441.5,333.5 1429.1,321.4 1436.7,322.5 1441.1,316.2" fill="#55a8ff"/>
<path d="M1443.2,187.9 C1444.2,190.8 1446.6,198.3 1449,205 C1451.4,211.7 1456.8,220.5 1457.6,228 C1458.4,235.5 1456.6,243 1454,250 C1451.4,257 1444.4,264 1442,270 C1439.6,276 1439,281.3 1439.5,286 C1440,290.7 1442.9,294 1445,298 C1447.1,302 1450.7,308.2 1451.9,310.2 " fill="none" stroke="#55a8ff" stroke-width="4.4" />
<polygon points="1456.5,320 1443.8,308.3 1451.4,309.1 1455.5,302.8" fill="#55a8ff"/>
<line x1="1579.6" y1="273" x2="1592" y2="282.1" stroke="#55a8ff" stroke-width="2.4"/>
<polygon points="1597.6,286.3 1589.2,284.2 1591.2,281.5 1593.1,278.9" fill="#55a8ff"/>
<path d="M1674.6,592 C1673.2,600 1673.4,623.7 1666,640 C1658.6,656.3 1644.3,678 1630,690 C1615.7,702 1596,707.5 1580,712 C1564,716.5 1550.5,718.2 1533.8,716.7 C1517.1,715.2 1497.3,711 1480,703 C1462.7,695 1438.3,674.2 1430,668.5 " fill="none" stroke="#55a8ff" stroke-width="1.9" />
<polygon points="1427,667.1 1437.1,669.9 1433.7,671.5 1433.6,675.3" fill="#55a8ff"/>
<path d="M1623.9,613.6 C1622.9,619.7 1623.7,638.1 1618,650 C1612.3,661.9 1604,676.4 1590,685 C1576,693.6 1552.1,701 1533.8,701.8 C1515.5,702.6 1497.5,696.6 1480,690 C1462.5,683.4 1437.5,667 1429,662.4 " fill="none" stroke="#55a8ff" stroke-width="1.9" />
<polygon points="1426,661 1436.4,662.8 1433.1,664.8 1433.3,668.6" fill="#55a8ff"/>
<path d="M1583.7,640 C1582.8,643.7 1582,655.3 1578,662 C1574,668.7 1567.8,675.8 1560,680 C1552.2,684.2 1544.3,687.7 1531,687 C1517.7,686.3 1497.1,681.4 1480,676 C1462.9,670.6 1436.9,658.2 1428.3,654.6 " fill="none" stroke="#55a8ff" stroke-width="1.9" />
<polygon points="1425.3,653.2 1435.7,654.4 1432.6,656.6 1433,660.3" fill="#55a8ff"/>
<path d="M1616.4,508.7 C1616.2,510.1 1616.5,514 1615,517 C1613.5,520 1610.9,523.2 1607.4,526.7 C1603.9,530.2 1596.4,535.9 1594.2,537.7 " fill="none" stroke="#000" stroke-width="1.7" stroke-linecap="round"/>
<path d="M1626.1,509.4 C1625.8,511.1 1625.7,516.4 1624,519.7 C1622.3,523 1619,526.3 1615.7,529.4 C1612.4,532.5 1605.9,536.9 1603.9,538.4 " fill="none" stroke="#000" stroke-width="1.7" stroke-linecap="round"/>
<path d="M1630.2,519.7 C1629.9,521.3 1629.9,526.2 1628.2,529.4 C1626.5,532.6 1623.3,535.9 1619.8,539.1 C1616.3,542.3 1609.5,547.2 1607.4,548.8 " fill="none" stroke="#000" stroke-width="1.7" stroke-linecap="round"/>
<path d="M1629.5,534.3 C1629.2,535.8 1629.3,540 1627.5,543.3 C1625.7,546.7 1621.8,551.2 1618.5,554.4 C1615.2,557.6 1609.2,561.3 1607.4,562.7 " fill="none" stroke="#000" stroke-width="1.7" stroke-linecap="round"/>
<polygon points="1561.7,557.1 1565.8,554.4 1570,550.9 1574.2,554.4 1577.6,561.3 1576.2,566.8 1571.4,565.4 1570,568.9 1565.2,569.6 1563.8,562.7 1561,559.2" fill="#c87137" stroke="#000" stroke-width="1.6" stroke-linejoin="round" />
<polygon points="1584.5,544 1586.6,540.5 1590.1,542.6 1592.8,541.2 1593.5,545.4 1591.5,548.1 1588,546.7 1585.2,546.7" fill="#c87137" stroke="#000" stroke-width="1.6" stroke-linejoin="round" />
<polygon points="1597.7,543.3 1600.5,541.6 1603.9,542.6 1604.6,545.4 1602.5,547.4 1599.8,546 1598.1,546.3" fill="#c87137" stroke="#000" stroke-width="1.6" stroke-linejoin="round" />
<polygon points="1590.6,549.4 1593.4,549.1 1594,551.8 1592,552.8 1590.4,551.6" fill="#c87137" stroke="#000" stroke-width="1.6" stroke-linejoin="round" />
<polygon points="1579,555 1583.8,553 1588.3,555 1587.3,558.5 1585.2,560.6 1583.2,558.5 1580.4,559.2" fill="#c87137" stroke="#000" stroke-width="1.6" stroke-linejoin="round" />
<polygon points="1592.2,560.6 1596.3,557.8 1598.4,553.7 1603.9,556.4 1603.2,562 1601.2,565.4 1596.3,566.1 1594.9,562.7" fill="#c87137" stroke="#000" stroke-width="1.6" stroke-linejoin="round" />
<polygon points="1580.4,571 1584.5,568.2 1587.3,564.7 1591.5,568.2 1592.8,573 1590.1,575.8 1588,574.4 1585.2,577.2 1583.8,573" fill="#c87137" stroke="#000" stroke-width="1.6" stroke-linejoin="round" />
<polygon points="1565.2,582.7 1570,582.1 1572.8,577.9 1578.3,577.2 1579.7,582.1 1584.5,584.8 1579.7,591 1572.8,594.5 1567.2,591.7 1567.9,586.2" fill="#c87137" stroke="#000" stroke-width="1.6" stroke-linejoin="round" />
<line x1="1574.3" y1="533.7" x2="1563.9" y2="541.8" stroke="#000" stroke-width="3"/>
<polygon points="1557.6,546.7 1562.2,538 1564.7,541.2 1567.2,544.3" fill="#000"/>
<line x1="1645.3" y1="578.1" x2="1619.8" y2="603.7" stroke="#000" stroke-width="3.4"/>
<polygon points="1612.8,610.8 1617.4,599.8 1620.6,603 1623.7,606.2" fill="#000"/>
<line x1="1652.2" y1="583.1" x2="1635.3" y2="600.1" stroke="#000" stroke-width="3.2"/>
<polygon points="1629,606.5 1633,596.4 1636,599.4 1639.1,602.4" fill="#000"/>
<line x1="1658.6" y1="588.5" x2="1650.2" y2="597.2" stroke="#000" stroke-width="2.8"/>
<polygon points="1645.3,602.2 1648.2,593.8 1650.9,596.5 1653.6,599.1" fill="#000"/>
<line x1="1728.5" y1="363" x2="1714.5" y2="363.6" stroke="#000" stroke-width="2.6"/>
<polygon points="1706.5,364 1715.3,359.8 1715.5,363.6 1715.7,367.3" fill="#000"/>
<line x1="1643.7" y1="429.9" x2="1629.4" y2="431.7" stroke="#000" stroke-width="2.6"/>
<polygon points="1621.5,432.7 1630,427.9 1630.4,431.6 1630.9,435.3" fill="#000"/>
<polygon points="1056.6,250 1056.6,256.2 1092.6,279.8 1092.6,273.6" fill="#adadad" stroke="#000" stroke-width="1.9" stroke-linejoin="round" />
<polygon points="1075.4,282 1075.4,288.2 1139,292.2 1139,286" fill="#adadad" stroke="#000" stroke-width="1.9" stroke-linejoin="round" />
<polygon points="1089.3,234.3 1056.6,250 1092.6,273.6 1075.4,282 1139,286 1139,251 1125.3,257.6" fill="#b3b3b3" stroke="#000" stroke-width="1.9" stroke-linejoin="round" />
<polygon points="1752,250.2 1752,256.4 1718.6,280.2 1718.6,274" fill="#adadad" stroke="#000" stroke-width="1.9" stroke-linejoin="round" />
<polygon points="1734.2,282.2 1734.2,288.4 1672.4,292.2 1672.4,286" fill="#adadad" stroke="#000" stroke-width="1.9" stroke-linejoin="round" />
<polygon points="1718,234.6 1752,250.2 1718.6,274 1734.2,282.2 1672.4,286 1670.9,251.2 1684.4,257.8" fill="#b3b3b3" stroke="#000" stroke-width="1.9" stroke-linejoin="round" />
<polygon points="1365,751 1365,761 1405,802.5 1405,792.5" fill="#adadad" stroke="#000" stroke-width="1.9" stroke-linejoin="round" />
<polygon points="1445,751 1445,761 1405,802.5 1405,792.5" fill="#adadad" stroke="#000" stroke-width="1.9" stroke-linejoin="round" />
<polygon points="1385.2,703.5 1424.8,703.5 1424.8,751 1445,751 1405,792.5 1365,751 1385.2,751" fill="#b3b3b3" stroke="#000" stroke-width="1.9" stroke-linejoin="round" />
<text x="1056" y="220.5" class="q" font-size="29.3">Q<tspan font-size="18.8" dy="6.4" dx="-1.3">w,0</tspan></text>
<text x="1000.2" y="248.3" class="q" font-size="29.3">Q<tspan font-size="18.8" dy="6.4" dx="-1.3">s,0</tspan></text>
<text x="1695.2" y="220" class="q" font-size="29.3">Q<tspan font-size="18.8" dy="6.4" dx="-1.3">w,0</tspan></text>
<text x="1760.3" y="248.3" class="q" font-size="29.3">Q<tspan font-size="18.8" dy="6.4" dx="-1.3">s,0</tspan></text>
<text x="1321" y="834.5" class="q qb" font-size="44.5">Q<tspan font-size="27.3" dy="7.7" dx="-2.2">s,L</tspan></text>
<text x="1417.5" y="834.5" class="q qb" font-size="44.5">Q<tspan font-size="27.3" dy="7.7" dx="-2.2">w,L</tspan></text>
</g>
<!-- labels -->
<g id="labels">
<text x="794.3" y="276" class="k" font-size="20.3">d<tspan class="i" dx="1.6">Q</tspan><tspan class="i" font-size="14.2" dy="5.1">s</tspan></text>
<text x="849.3" y="358.6" class="k" font-size="20.3">d<tspan class="i" dx="1.6">Q</tspan><tspan class="i" font-size="14.2" dy="5.1">s</tspan></text>
<text x="906.1" y="549" class="k" font-size="20.3">d<tspan class="i" dx="1.6">Q</tspan><tspan class="i" font-size="14.2" dy="5.1">s</tspan></text>
<text x="974" y="580" class="k" font-size="20.3">d<tspan class="i" dx="1.6">Q</tspan><tspan class="i" font-size="14.2" dy="5.1">s</tspan></text>
<text x="922.5" y="288.2" class="k" font-size="18.8" text-anchor="middle">Gullies</text>
<text x="922.5" y="305.3" class="k" font-size="18.8" text-anchor="middle">&amp; debris</text>
<text x="921.7" y="321.8" class="k" font-size="18.8" text-anchor="middle">chutes</text>
<text x="915.5" y="399.4" class="k" font-size="18.8" text-anchor="middle">Lateral</text>
<text x="912" y="416" class="k" font-size="18.8" text-anchor="middle">erosion</text>
<text x="887.5" y="474.4" class="k" font-size="18.8" text-anchor="middle">Rock</text>
<text x="887.5" y="490.5" class="k" font-size="18.8" text-anchor="middle">falls</text>
<text x="965.5" y="628" class="k" font-size="18.8" text-anchor="middle">Soil &amp;</text>
<text x="965.5" y="644.7" class="k" font-size="18.8" text-anchor="middle">sediment</text>
<text x="965.5" y="660.8" class="k" font-size="18.8" text-anchor="middle">creep</text>
<text x="619.8" y="286.6" class="w" font-size="21.3">d<tspan class="i" dx="1.6">Q</tspan><tspan class="i" font-size="14.9" dy="5.3">w</tspan></text>
<text x="543.3" y="455.6" class="w" font-size="21.3">d<tspan class="i" dx="1.6">Q</tspan><tspan class="i" font-size="14.9" dy="5.3">w</tspan></text>
<text x="572.8" y="674.6" class="w" font-size="21.3">d<tspan class="i" dx="1.6">Q</tspan><tspan class="i" font-size="14.9" dy="5.3">w</tspan></text>
<text x="568" y="314" class="w" font-size="19.3" text-anchor="middle">Rills &amp;</text>
<text x="568" y="330" class="w" font-size="19.3" text-anchor="middle">gullies</text>
<text x="517.5" y="491" class="w" font-size="19.3" text-anchor="end">Surface</text>
<text x="517.5" y="507" class="w" font-size="19.3" text-anchor="end">runoff</text>
<text x="433.2" y="720" class="w" font-size="18.8" text-anchor="start">Groundwater</text>
<text x="1731" y="375" class="k" font-size="20.3">d<tspan class="i" dx="1.6">Q</tspan><tspan class="i" font-size="14.2" dy="5.1">s</tspan></text>
<text x="1630.5" y="452.3" class="k" font-size="20.3">d<tspan class="i" dx="1.6">Q</tspan><tspan class="i" font-size="14.2" dy="5.1">s</tspan></text>
<text x="1558" y="525" class="k" font-size="20.3">d<tspan class="i" dx="1.6">Q</tspan><tspan class="i" font-size="14.2" dy="5.1">s</tspan></text>
<text x="1652.5" y="580.6" class="k" font-size="20.3">d<tspan class="i" dx="1.6">Q</tspan><tspan class="i" font-size="14.2" dy="5.1">s</tspan></text>
<text x="1449.5" y="292" class="w" font-size="21.3">d<tspan class="i" dx="1.6">Q</tspan><tspan class="i" font-size="14.9" dy="5.3">w</tspan></text>
<text x="1538" y="304.6" class="w" font-size="21.3">d<tspan class="i" dx="1.6">Q</tspan><tspan class="i" font-size="14.9" dy="5.3">w</tspan></text>
<text x="1488.6" y="671" class="w" font-size="21.3">d<tspan class="i" dx="1.6">Q</tspan><tspan class="i" font-size="14.9" dy="5.3">w</tspan></text>
</g>
</svg>
</body>
</html>
